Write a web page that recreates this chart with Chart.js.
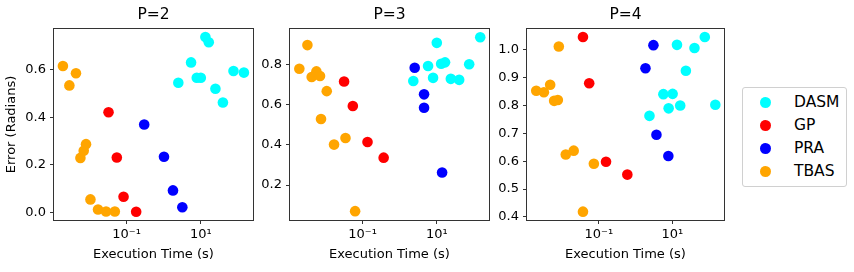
<!DOCTYPE html>
<html lang="en">
<head>
  <meta charset="UTF-8">
  <title>Error vs Execution Time</title>
  <script src="https://cdn.jsdelivr.net/npm/chart.js"></script>
  <style>
    body { margin: 0; background: #fff; font-family: "DejaVu Sans", sans-serif; }
    #wrap { position: relative; width: 854px; height: 272px; }
    canvas { position: absolute; top: 0; }
    #legend { position: absolute; left: 742px; top: 87px; width: 105px; height: 100px;
              border: 1px solid #d0d0d0; border-radius: 3px; box-sizing: border-box; }
    .row { position: absolute; left: 0; height: 20px; font-size: 15.5px; color: #000; }
    .dot { position: absolute; left: 17px; top: 4px; width: 11px; height: 11px; border-radius: 50%; }
    .lbl { position: absolute; left: 51px; top: 0px; white-space: nowrap; }
  </style>
</head>
<body>
  <div id="wrap">
    <canvas id="c1" width="260" height="272" style="left:0px"></canvas>
    <canvas id="c2" width="236" height="272" style="left:260px"></canvas>
    <canvas id="c3" width="240" height="272" style="left:492px"></canvas>
    <div id="legend"></div>
  </div>

  <script>
    // series (x = execution time in s, y = error in radians)
    const SERIES = ['DASM', 'GP', 'PRA', 'TBAS'];
    const COLORS = ['#00ffff', '#ff0000', '#0000ff', '#ffa500'];

    const P2_DASM = [[13.3,0.739],[16.4,0.717],[5.47,0.632],[2.48,0.546],[7.8,0.567],[10.0,0.567],[24.8,0.521],[39.4,0.463],[76,0.596],[145,0.589]];
    const P2_GP   = [[0.0327,0.422],[0.0547,0.231],[0.083,0.065],[0.1815,0.002]];
    const P2_PRA  = [[0.299,0.370],[1.02,0.234],[1.78,0.092],[3.18,0.021]];
    const P2_TBAS = [[0.00193,0.617],[0.00288,0.535],[0.00434,0.586],[0.00571,0.229],[0.00701,0.259],[0.00809,0.287],[0.01064,0.054],[0.01706,0.011],[0.0281,0.003],[0.0483,0.003]];

    const P3_DASM = [[2.33,0.717],[5.82,0.792],[10.0,0.907],[7.94,0.733],[13.1,0.803],[16.7,0.810],[23.9,0.728],[40.1,0.723],[74.6,0.801],[148,0.935]];
    const P3_GP   = [[0.0318,0.715],[0.0547,0.593],[0.136,0.414],[0.37,0.336]];
    const P3_PRA  = [[2.54,0.783],[4.54,0.651],[4.54,0.584],[13.9,0.262]];
    const P3_TBAS = [[0.00198,0.778],[0.00327,0.896],[0.00426,0.737],[0.00571,0.765],[0.00715,0.742],[0.01084,0.667],[0.0076,0.528],[0.01706,0.401],[0.0347,0.434],[0.063,0.07]];

    const P4_DASM = [[13.4,1.018],[40.1,1.007],[76.6,1.046],[23.4,0.925],[5.71,0.841],[10.2,0.842],[7.94,0.790],[16.4,0.800],[2.39,0.763],[148,0.803]];
    const P4_GP   = [[0.037,1.046],[0.0547,0.880],[0.157,0.598],[0.597,0.552]];
    const P4_PRA  = [[3.06,1.017],[1.86,0.934],[3.7,0.695],[7.8,0.619]];
    const P4_TBAS = [[0.00198,0.853],[0.0032,0.848],[0.00474,0.875],[0.00608,0.817],[0.00766,0.820],[0.00815,1.012],[0.0126,0.624],[0.0207,0.638],[0.0733,0.591],[0.037,0.419]];

    // axis ticks
    const X_TICKS = [0.1, 10];
    const X_TICK_LABELS = ['10\u207B\u00B9', '10\u00B9'];
    const P2_Y_TICKS = [0.0, 0.2, 0.4, 0.6];
    const P3_Y_TICKS = [0.2, 0.4, 0.6, 0.8];
    const P4_Y_TICKS = [0.4, 0.5, 0.6, 0.7, 0.8, 0.9, 1.0];

    const FONT = 'DejaVu Sans';

    // matplotlib style box around the plot area
    const frame = {
      id: 'frame',
      afterDraw(chart) {
        const a = chart.chartArea, ctx = chart.ctx;
        ctx.save();
        ctx.strokeStyle = '#333';
        ctx.lineWidth = 1;
        ctx.strokeRect(Math.round(a.left) - 0.5, Math.round(a.top) - 0.5,
                       Math.round(a.right - a.left) + 1, Math.round(a.bottom - a.top) + 1);
        ctx.restore();
      }
    };

    function makePanel(id, title, groups, yMin, yMax, yTicks, yWidth, padRight, showYTitle) {
      new Chart(document.getElementById(id), {
        type: 'scatter',
        data: {
          datasets: groups.map((g, i) => ({
            label: SERIES[i],
            data: g.map(p => ({ x: p[0], y: p[1] })),
            backgroundColor: COLORS[i],
            borderWidth: 0,
            pointRadius: 5.3,
            order: SERIES.length - i
          }))
        },
        options: {
          responsive: false,
          animation: false,
          layout: { padding: { left: 0, right: padRight, top: 0, bottom: 0 } },
          plugins: {
            legend: { display: false },
            tooltip: { enabled: false },
            title: {
              display: true, fullSize: false, text: title, color: '#000',
              font: { family: FONT, size: 15.5, weight: 'normal' },
              padding: { top: 6, bottom: 4.4 }
            }
          },
          scales: {
            x: {
              type: 'logarithmic',
              min: 0.00111, max: 255,
              afterBuildTicks: s => { s.ticks = X_TICKS.map(v => ({ value: v })); },
              afterFit: s => { s.height = 52; },
              ticks: {
                color: '#000', padding: 3, maxRotation: 0, autoSkip: false,
                font: { family: FONT, size: 13 },
                callback: v => X_TICK_LABELS[X_TICKS.indexOf(v)]
              },
              grid: { display: true, drawOnChartArea: false, tickLength: 4, color: '#333' },
              border: { display: false },
              title: {
                display: true, text: 'Execution Time (s)', color: '#000',
                font: { family: FONT, size: 13 }, padding: { top: 0, bottom: 10 }
              }
            },
            y: {
              min: yMin, max: yMax,
              afterBuildTicks: s => { s.ticks = yTicks.map(v => ({ value: v })); },
              afterFit: s => { s.width = yWidth; },
              ticks: {
                color: '#000', padding: 4,
                font: { family: FONT, size: 13 },
                callback: v => Number(v).toFixed(1)
              },
              grid: { display: true, drawOnChartArea: false, tickLength: 4, color: '#333' },
              border: { display: false },
              title: {
                display: showYTitle, text: 'Error (Radians)', color: '#000',
                font: { family: FONT, size: 13 }, padding: { top: 4, bottom: 0 }
              }
            }
          }
        },
        plugins: [frame]
      });
    }

    makePanel('c1', 'P=2', [P2_DASM, P2_GP, P2_PRA, P2_TBAS], -0.033, 0.773, P2_Y_TICKS, 54, 7, true);
    makePanel('c2', 'P=3', [P3_DASM, P3_GP, P3_PRA, P3_TBAS], 0.026, 0.976, P3_Y_TICKS, 30, 7, false);
    makePanel('c3', 'P=4', [P4_DASM, P4_GP, P4_PRA, P4_TBAS], 0.389, 1.075, P4_Y_TICKS, 35, 8, false);

    // legend
    const legend = document.getElementById('legend');
    SERIES.forEach((name, i) => {
      const row = document.createElement('div');
      row.className = 'row';
      row.style.top = (5 + i * 23) + 'px';
      row.innerHTML = `<span class="dot" style="background:${COLORS[i]}"></span><span class="lbl">${name}</span>`;
      legend.appendChild(row);
    });
  </script>
</body>
</html>
